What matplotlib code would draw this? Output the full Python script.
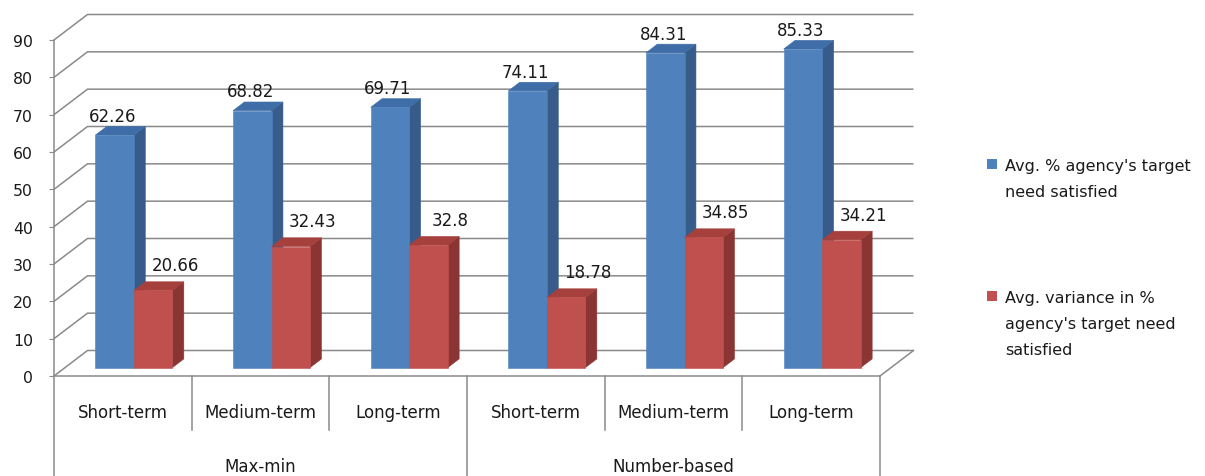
import matplotlib
matplotlib.use("Agg")
import matplotlib.pyplot as plt
from matplotlib.patches import Polygon, Rectangle

# ---- data -------------------------------------------------------------
categories = ["Short-term", "Medium-term", "Long-term",
              "Short-term", "Medium-term", "Long-term"]
groups = ["Max-min", "Number-based"]
group_size = 3
avg_satisfied = [62.26, 68.82, 69.71, 74.11, 84.31, 85.33]
avg_variance = [20.66, 32.43, 32.8, 18.78, 34.85, 34.21]
series_names = ["Avg. % agency's target\nneed satisfied",
                "Avg. variance in %\nagency's target need\nsatisfied"]
y_ticks = list(range(0, 100, 10))

# ---- styling ----------------------------------------------------------
plt.rcParams["font.family"] = ["DejaVu Sans"]
GRID = "#8a8a8a"
TEXT = "#1a1a1a"
BLUE = {"front": "#4F81BD", "top": "#3F6DA8", "side": "#385C8A"}
RED = {"front": "#C0504D", "top": "#A5403D", "side": "#8A3533"}

W, H = 1205, 477
fig = plt.figure(figsize=(W / 100, H / 100), dpi=100)
fig.patch.set_facecolor("white")

# axes spans the front plane of the 3-D box
ax = fig.add_axes([54 / W, 100 / H, 826 / W, 336 / H])
n = len(categories)
ymax = y_ticks[-1]
ax.set_xlim(0, n)
ax.set_ylim(0, ymax)
ax.patch.set_visible(False)

px_x = 826 / n          # pixels per category
px_y = 336 / ymax       # pixels per value unit
DX = 33.5 / px_x        # depth offset of the box (data units)
DY = 25.5 / px_y
F0, F1 = 0.33, 0.67     # bar depth range inside the box
BW = 0.28               # bar width (category units)


def proj(x, v, d):
    return (x + d * DX, v + d * DY)


# walls: back-wall gridlines and left-wall diagonals
for v in y_ticks:
    ax.plot([0, DX, n + DX], [v, v + DY, v + DY], color=GRID, lw=1.1,
            clip_on=False, zorder=1, solid_capstyle="butt")
# floor edges
ax.plot([0, n], [0, 0], color=GRID, lw=1.1, clip_on=False, zorder=1)
ax.plot([n, n + DX], [0, DY], color=GRID, lw=1.1, clip_on=False, zorder=1)

# category / group separators below the floor
bottom_v = -101 / px_y
for k in range(n + 1):
    low = bottom_v if k % group_size == 0 else -54 / px_y
    ax.plot([k, k], [0, low], color=GRID, lw=1.1, clip_on=False, zorder=1)

# y axis
for s in ["top", "right", "bottom"]:
    ax.spines[s].set_visible(False)
ax.spines["left"].set_color(GRID)
ax.spines["left"].set_linewidth(1.1)
ax.set_xticks([])
ax.set_yticks(y_ticks)
ax.tick_params(axis="y", direction="out", length=3.6, width=0.8,
               color=GRID, labelsize=11.3, labelcolor=TEXT, pad=11.5)


def draw_bar(x0, x1, v, colors, z):
    front = [proj(x0, 0, F0), proj(x1, 0, F0), proj(x1, v, F0), proj(x0, v, F0)]
    top = [proj(x0, v, F0), proj(x1, v, F0), proj(x1, v, F1), proj(x0, v, F1)]
    side = [proj(x1, 0, F0), proj(x1, 0, F1), proj(x1, v, F1), proj(x1, v, F0)]
    for pts, key in ((side, "side"), (top, "top"), (front, "front")):
        ax.add_patch(Polygon(pts, closed=True, facecolor=colors[key],
                             edgecolor=colors[key], lw=0.4,
                             clip_on=False, zorder=z))


z = 3
for i in range(n):
    c = i + 0.5
    for x0, val, cols, off in ((c - BW, avg_satisfied[i], BLUE, (-2, 14.2)),
                               (c, avg_variance[i], RED, (22, 20.2))):
        draw_bar(x0, x0 + BW, val, cols, z)
        z += 1
        xc, yc = proj(x0 + BW / 2, val, F0)
        ax.annotate(f"{val:g}", xy=(xc, yc),
                    xytext=(off[0] * 0.72, off[1] * 0.72),
                    textcoords="offset points", ha="center", va="baseline",
                    fontsize=12, color=TEXT, zorder=50, annotation_clip=False)

# category and group labels
for i, cat in enumerate(categories):
    ax.text(i + 0.5, -41 / px_y, cat, ha="center", va="baseline",
            fontsize=12, color=TEXT, clip_on=False)
for g, name in enumerate(groups):
    ax.text(g * group_size + group_size / 2, -95 / px_y, name,
            ha="center", va="baseline", fontsize=12, color=TEXT,
            clip_on=False)

# legend
legend_baselines = [171, 303]
for name, cols, base in zip(series_names, (BLUE, RED), legend_baselines):
    fig.patches.append(Rectangle((987 / W, 1 - (base - 1) / H), 10 / W, 10 / H,
                                 transform=fig.transFigure,
                                 facecolor=cols["front"], edgecolor="none"))
    for j, line in enumerate(name.split("\n")):
        fig.text(1005 / W, 1 - (base + 26 * j) / H, line, ha="left",
                 va="baseline", fontsize=11.5, color=TEXT)

fig.savefig("out.png", dpi=100, facecolor="white")
